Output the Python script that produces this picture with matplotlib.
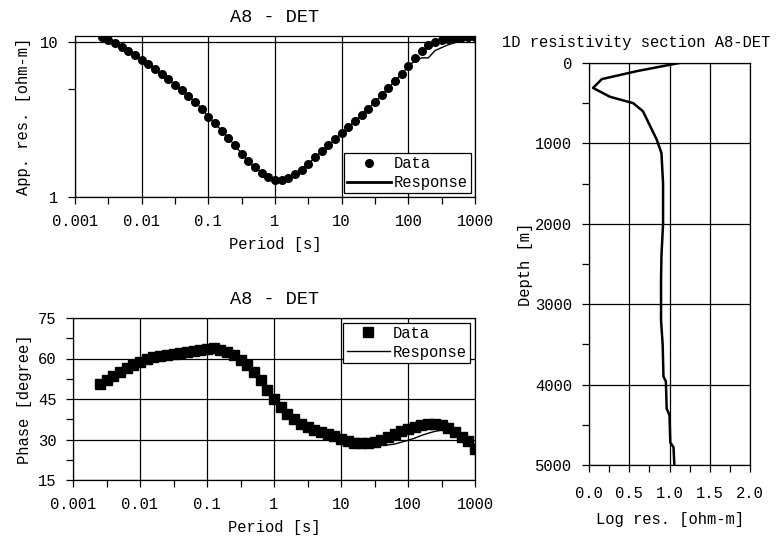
import numpy as np
import matplotlib
matplotlib.use("Agg")
import matplotlib.pyplot as plt
from matplotlib.ticker import FixedLocator, FixedFormatter, NullFormatter

plt.rcParams['font.family'] = ['Liberation Mono', 'DejaVu Sans Mono']
plt.rcParams['font.size'] = 11.2

# periods: 10 samples per decade, 10^-2.6 .. 10^3
log_period = np.arange(-2.6, 3.05, 0.1)
period = 10 ** log_period

rho_data = [10.8, 10.3, 9.8, 9.3, 8.8, 8.2, 7.7, 7.2, 6.7, 6.2,
            5.75, 5.3, 4.9, 4.5, 4.1, 3.72, 3.3, 2.98, 2.68, 2.4,
            2.15, 1.90, 1.70, 1.55, 1.43, 1.34, 1.29, 1.29, 1.33, 1.40,
            1.50, 1.64, 1.80, 1.97, 2.15, 2.36, 2.58, 2.82, 3.10, 3.40,
            3.72, 4.10, 4.55, 5.05, 5.6, 6.25, 7.0, 7.9, 8.7, 9.5,
            10.0, 10.3, 10.5, 10.6, 10.7, 10.75, 10.8]
rho_resp = [10.8, 10.3, 9.8, 9.3, 8.8, 8.2, 7.7, 7.2, 6.7, 6.2,
            5.75, 5.3, 4.9, 4.5, 4.1, 3.72, 3.3, 2.98, 2.68, 2.4,
            2.15, 1.90, 1.70, 1.55, 1.43, 1.34, 1.29, 1.29, 1.33, 1.40,
            1.50, 1.64, 1.80, 1.97, 2.15, 2.36, 2.58, 2.82, 3.10, 3.40,
            3.72, 4.10, 4.55, 5.05, 5.6, 6.25, 6.95, 7.6, 7.9, 7.9,
            8.8, 9.2, 9.6, 9.9, 10.2, 10.5, 10.8]

phase_data = [50.5, 52.0, 53.5, 55.0, 56.3, 57.5, 58.8, 60.0, 60.7, 61.0,
              61.3, 61.6, 62.0, 62.3, 62.6, 63.0, 63.6, 63.8, 63.2, 62.5,
              61.3, 59.5, 57.5, 55.0, 52.0, 48.5, 45.0, 42.0, 39.5, 37.5,
              35.8, 34.5, 33.5, 32.8, 32.0, 31.3, 30.3, 29.3, 28.8, 28.6,
              28.7, 29.2, 30.0, 31.0, 32.0, 33.0, 34.0, 34.7, 35.3, 35.7,
              35.8, 35.3, 34.3, 32.8, 31.0, 29.5, 26.5]
phase_resp = [50.5, 52.0, 53.5, 55.0, 56.3, 57.5, 58.8, 60.0, 60.7, 61.0,
              61.3, 61.6, 62.0, 62.3, 62.6, 63.0, 63.6, 63.8, 63.2, 62.5,
              61.3, 59.5, 57.5, 55.0, 52.0, 48.5, 45.0, 42.0, 39.5, 37.5,
              35.8, 34.5, 33.5, 32.8, 32.0, 31.3, 30.3, 29.3, 28.6, 28.4,
              28.2, 28.0, 28.0, 28.0, 28.3, 29.0, 29.7, 30.5, 31.5, 32.3,
              33.0, 33.5, 33.5, 32.8, 31.5, 29.8, 28.0]

depth = [0, 100, 200, 310, 420, 500, 600, 950, 1120, 1500, 2000, 2400,
         2700, 3200, 3500, 3900, 3960, 4300, 4380, 4720, 4780, 5000]
log_res = [1.12, 0.60, 0.16, 0.05, 0.26, 0.55, 0.67, 0.84, 0.90, 0.92, 0.92,
           0.90, 0.895, 0.895, 0.915, 0.925, 0.955, 0.965, 1.0, 1.01, 1.05, 1.06]

period_ticks = [0.001, 0.01, 0.1, 1, 10, 100, 1000]
period_labels = ['0.001', '0.01', '0.1', '1', '10', '100', '1000']
half_decades = [10 ** (k + 0.5) for k in range(-3, 3)]

W, H = 776, 545
fig = plt.figure(figsize=(W / 100, H / 100), dpi=100)


def box(x0, y0, x1, y1):
    return [x0 / W, 1 - y1 / H, (x1 - x0) / W, (y1 - y0) / H]


def style(ax):
    for s in ax.spines.values():
        s.set_linewidth(0.9)
        s.set_color('black')
    ax.tick_params(which='both', direction='out', length=5, width=0.9,
                   color='black', pad=7)
    ax.grid(True, which='major', color='black', linewidth=0.9)
    ax.set_axisbelow(True)


def period_axis(ax):
    ax.set_xscale('log')
    ax.set_xlim(0.001, 1000)
    ax.xaxis.set_major_locator(FixedLocator(period_ticks))
    ax.xaxis.set_major_formatter(FixedFormatter(period_labels))
    ax.xaxis.set_minor_locator(FixedLocator(half_decades))
    ax.xaxis.set_minor_formatter(NullFormatter())
    ax.set_xlabel('Period [s]', labelpad=6)


# apparent resistivity
ax1 = fig.add_axes(box(75, 36, 475, 197))
style(ax1)
ax1.plot(period, rho_data, 'o', color='black', markersize=5.5, label='Data')
ax1.plot(period, rho_resp, '-', color='black', linewidth=1.0, label='Response')
ax1.set_yscale('log')
ax1.set_ylim(1, 10.93)
ax1.yaxis.set_major_locator(FixedLocator([1, 10]))
ax1.yaxis.set_major_formatter(FixedFormatter(['1', '10']))
ax1.yaxis.set_minor_locator(FixedLocator([5]))
ax1.yaxis.set_minor_formatter(NullFormatter())
period_axis(ax1)
ax1.set_ylabel('App. res. [ohm-m]', labelpad=6)
ax1.set_title('A8 - DET', pad=10)
leg1 = ax1.legend(loc='lower right', fancybox=False, edgecolor='black',
                  framealpha=1, handlelength=2.8, handletextpad=0.2,
                  labelspacing=0.25, borderpad=0.2, borderaxespad=0.25)
leg1.get_frame().set_linewidth(0.9)
leg1.legend_handles[1].set_linewidth(2)

# phase
ax2 = fig.add_axes(box(73, 318, 475, 480))
style(ax2)
ax2.plot(period, phase_data, 's', color='black', markersize=6.5, label='Data')
ax2.plot(period, phase_resp, '-', color='black', linewidth=1.0, label='Response')
ax2.set_ylim(15, 75)
ax2.yaxis.set_major_locator(FixedLocator([15, 30, 45, 60, 75]))
ax2.yaxis.set_minor_locator(FixedLocator([22.5, 37.5, 52.5, 67.5]))
period_axis(ax2)
ax2.set_ylabel('Phase [degree]')
ax2.set_title('A8 - DET', pad=10)
leg2 = ax2.legend(loc='upper right', fancybox=False, edgecolor='black',
                  framealpha=1, handlelength=2.8, handletextpad=0.2,
                  labelspacing=0.25, borderpad=0.2, borderaxespad=0.3)
leg2.get_frame().set_linewidth(0.9)

# 1D model
ax3 = fig.add_axes(box(589, 63, 750, 465))
style(ax3)
ax3.tick_params(axis='x', pad=10)
ax3.plot(log_res, depth, '-', color='black', linewidth=1.8)
ax3.set_xlim(0, 2)
ax3.set_ylim(5000, 0)
ax3.xaxis.set_major_locator(FixedLocator([0, 0.5, 1.0, 1.5, 2.0]))
ax3.xaxis.set_major_formatter(FixedFormatter(['0.0', '0.5', '1.0', '1.5', '2.0']))
ax3.xaxis.set_minor_locator(FixedLocator([0.25, 0.75, 1.25, 1.75]))
ax3.yaxis.set_major_locator(FixedLocator([0, 1000, 2000, 3000, 4000, 5000]))
ax3.yaxis.set_minor_locator(FixedLocator([500, 1500, 2500, 3500, 4500]))
ax3.set_xlabel('Log res. [ohm-m]', labelpad=8)
ax3.set_ylabel('Depth [m]', labelpad=2)
fig.text(636 / W, 1 - 42 / H, '1D resistivity section A8-DET',
         ha='center', va='center')

fig.savefig('out.png', dpi=100)
